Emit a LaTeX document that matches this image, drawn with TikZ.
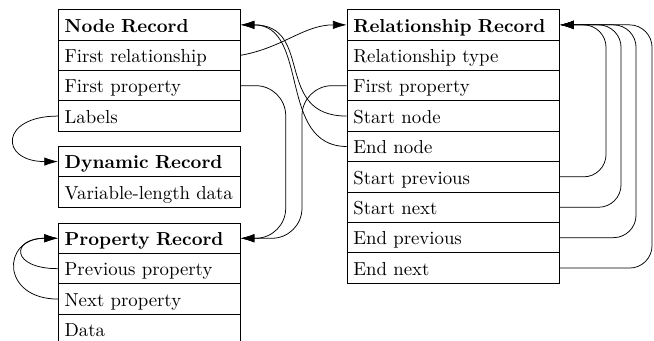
\documentclass[tikz,border=0pt]{standalone}
\usetikzlibrary{arrows.meta}
\begin{document}
\begin{tikzpicture}[x=0.532pt, y=-0.532pt,
  rec/.style={draw, anchor=north west, minimum height=16.17pt, inner ysep=0pt, inner xsep=3.33pt, text height=7.6pt, text depth=0pt, align=left},
  narrow/.style={rec, text width=90.15pt},
  wide/.style={rec, text width=106.45pt},
  hd/.style={font=\bfseries},
  link/.style={-{Latex[length=7.3pt,width=4.5pt]}},
]
\useasboundingbox (0,0) rectangle (654,341);
% Node Record
\node[narrow,hd] (nr)  at (58,9.3)   {Node Record};
\node[narrow]    (nr1) at (58,39.7)  {First relationship};
\node[narrow]    (nr2) at (58,70.1)  {First property};
\node[narrow]    (nr3) at (58,100.5) {Labels};
% Dynamic Record
\node[narrow,hd] (dr)  at (58,146)   {Dynamic Record};
\node[narrow]    (dr1) at (58,176.4) {Variable-length data};
% Property Record
\node[narrow,hd] (pr)  at (58,222.7) {Property Record};
\node[narrow]    (pr2) at (58,253.1) {Previous property};
\node[narrow]    (pr3) at (58,283.5) {Next property};
\node[narrow]    (pr4) at (58,313.9) {Data};
% Relationship Record
\node[wide,hd] (rr)  at (346.7,9.3)   {Relationship Record};
\node[wide]    (rr2) at (346.7,39.7)  {Relationship type};
\node[wide]    (rr3) at (346.7,70.1)  {First property};
\node[wide]    (rr4) at (346.7,100.5) {Start node};
\node[wide]    (rr5) at (346.7,130.9) {End node};
\node[wide]    (rr6) at (346.7,161.3) {Start previous};
\node[wide]    (rr7) at (346.7,191.7) {Start next};
\node[wide]    (rr8) at (346.7,222.1) {End previous};
\node[wide]    (rr9) at (346.7,252.5) {End next};
% connectors
\draw[link] (nr1.east) to[out=10,in=180] (rr.west);
\draw[link] (rr4.west) to[out=180,in=0,looseness=1.35] (nr.east);
\draw[link] (rr5.west) to[out=180,in=0,looseness=1.1] (nr.east);
\draw[link, rounded corners=16pt] (nr2.east) -- ++(45,0) |- (pr.east);
\draw[link, rounded corners=16pt] (rr3.west) -- ++(-44.7,0) |- (pr.east);
\draw[link, rounded corners=12pt] (rr6.east) -- ++(46,0) |- (rr.east);
\draw[link, rounded corners=12pt] (rr7.east) -- ++(61,0) |- (rr.east);
\draw[link, rounded corners=12pt] (rr8.east) -- ++(76,0) |- (rr.east);
\draw[link, rounded corners=12pt] (rr9.east) -- ++(92,0) |- (rr.east);
\draw[link] (nr3.west) to[out=180,in=180,looseness=3.3] (dr.west);
\draw[link] (pr2.west) to[out=180,in=180,looseness=4] (pr.west);
\draw[link] (pr3.west) to[out=180,in=180,looseness=2.4] (pr.west);
\end{tikzpicture}
\end{document}
